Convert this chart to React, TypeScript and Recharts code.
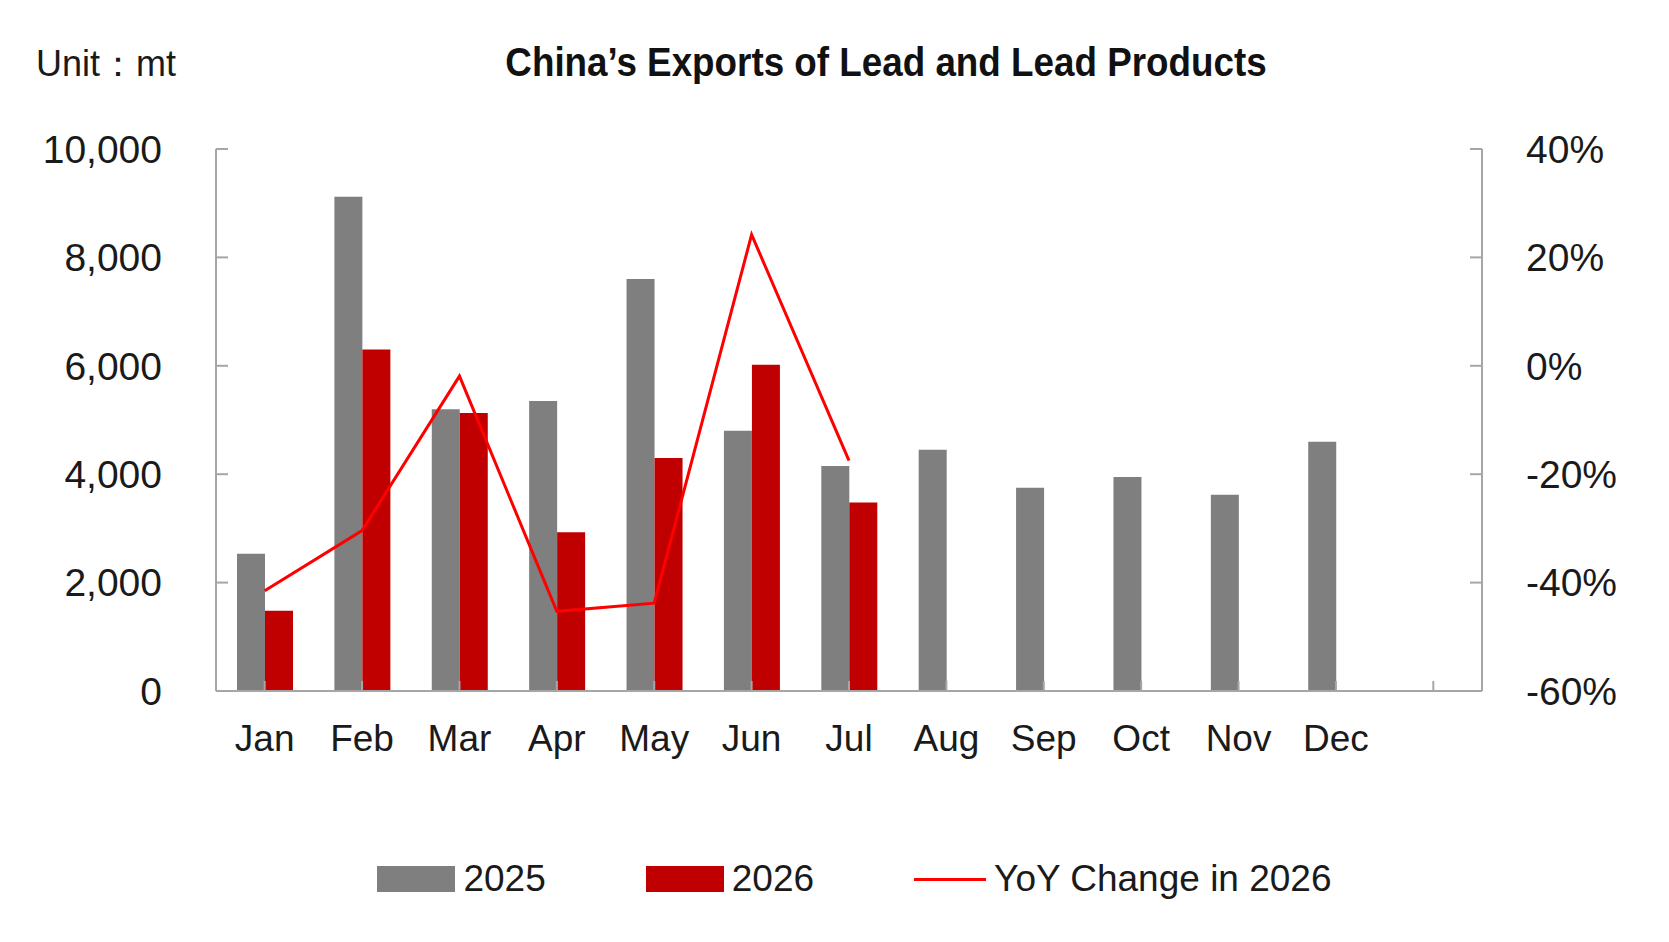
import { ComposedChart, Bar, Line, XAxis, YAxis } from "recharts";

const months = ["Jan", "Feb", "Mar", "Apr", "May", "Jun", "Jul", "Aug", "Sep", "Oct", "Nov", "Dec", ""];
const exports2025 = [2530, 9120, 5200, 5350, 7600, 4800, 4150, 4450, 3750, 3950, 3620, 4600, null];
const exports2026 = [1480, 6300, 5130, 2930, 4300, 6020, 3480, null, null, null, null, null, null];
const yoy2026 = [-41.5, -30.4, -1.9, -45.3, -43.8, 24.2, -17.5, null, null, null, null, null, null];
const leftTicks = [0, 2000, 4000, 6000, 8000, 10000];
const rightTicks = [-60, -40, -20, 0, 20, 40];

const data = months.map((m, i) => ({
  month: m,
  y2025: exports2025[i],
  y2026: exports2026[i],
  yoy: yoy2026[i],
}));

const FONT = "'Liberation Sans', Arial, sans-serif";
const AXIS = "#a6a6a6";

function LegendBox() {
  const item = { display: "flex", alignItems: "center", gap: 8, fontSize: 37, color: "#1a1a1a" };
  return (
    <div
      style={{
        position: "absolute",
        top: 858,
        left: 0,
        width: 1669,
        display: "flex",
        justifyContent: "center",
        gap: 100,
        fontFamily: FONT,
        paddingLeft: 40,
        boxSizing: "border-box",
      }}
    >
      <div style={item}>
        <span style={{ width: 78, height: 26, background: "#7f7f7f", display: "inline-block" }} />2025
      </div>
      <div style={item}>
        <span style={{ width: 78, height: 26, background: "#c00000", display: "inline-block" }} />2026
      </div>
      <div style={item}>
        <span style={{ width: 72, height: 3, background: "#ff0000", display: "inline-block" }} />YoY Change in 2026
      </div>
    </div>
  );
}

export default function App() {
  return (
    <div style={{ position: "relative", width: 1669, height: 942, background: "#fff", fontFamily: FONT }}>
      <style>{"body{margin:0}"}</style>
      <div style={{ position: "absolute", left: 36, top: 40, fontSize: 36, color: "#1a1a1a" }}>Unit：mt</div>
      <div
        style={{
          position: "absolute",
          left: 0,
          width: 1772,
          top: 40,
          textAlign: "center",
          fontSize: 40,
          fontWeight: "bold",
          fontFamily: "'Liberation Sans Narrow', 'Liberation Sans', sans-serif",
          transform: "scaleX(0.92)",
          color: "#111",
        }}
      >
        China’s Exports of Lead and Lead Products
      </div>
      <ComposedChart
        width={1669}
        height={942}
        data={data}
        margin={{ top: 149, right: 0, bottom: 221, left: 0 }}
        barGap={0}
        barCategoryGap={0}
      >
        <XAxis
          dataKey="month"
          stroke={AXIS}
          strokeWidth={2}
          tickSize={-10}
          tickMargin={44}
          interval={0}
          tick={{ fill: "#1a1a1a", fontSize: 37 }}
        />
        <YAxis
          yAxisId="l"
          width={216}
          domain={[0, 10000]}
          ticks={leftTicks}
          stroke={AXIS}
          strokeWidth={2}
          tickSize={-12}
          tickMargin={66}
          tick={{ fill: "#1a1a1a", fontSize: 39 }}
          tickFormatter={(v: number) => v.toLocaleString("en-US")}
        />
        <YAxis
          yAxisId="r"
          orientation="right"
          width={187}
          domain={[-60, 40]}
          ticks={rightTicks}
          stroke={AXIS}
          strokeWidth={2}
          tickSize={-12}
          tickMargin={56}
          tick={{ fill: "#1a1a1a", fontSize: 39 }}
          tickFormatter={(v: number) => `${v}%`}
        />
        <Bar yAxisId="l" dataKey="y2025" fill="#7f7f7f" barSize={28} isAnimationActive={false} />
        <Bar yAxisId="l" dataKey="y2026" fill="#c00000" barSize={28} isAnimationActive={false} />
        <Line
          yAxisId="r"
          dataKey="yoy"
          stroke="#ff0000"
          strokeWidth={3}
          dot={false}
          type="linear"
          isAnimationActive={false}
        />
      </ComposedChart>
      <LegendBox />
    </div>
  );
}
